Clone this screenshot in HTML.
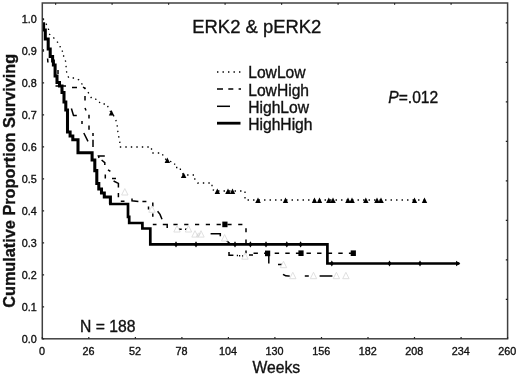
<!DOCTYPE html>
<html><head><meta charset="utf-8"><title>ERK2 &amp; pERK2</title>
<style>
html,body{margin:0;padding:0;background:#fff;}
body{width:520px;height:375px;overflow:hidden;font-family:"Liberation Sans",sans-serif;}
svg{display:block;will-change:transform;}
text{font-family:"Liberation Sans",sans-serif;fill:#111;stroke:#111;stroke-width:0.35px;}
</style></head><body>
<svg width="520" height="375" viewBox="0 0 520 375">
<rect x="0" y="0" width="520" height="375" fill="#fff"/>

<g fill="none" stroke="#000">
<path d="M43.0 19.0 L46.8 25.0 L48.6 29.6 L49.0 33.8 L55.0 39.0 L57.4 42.0 L60.0 45.0 L60.5 50.0 L63.6 52.0 L63.6 57.0 L65.5 61.0 L66.0 65.6 L66.5 71.0 L67.0 75.0 L69.0 78.0 L75.0 78.0 L79.0 80.0 L82.0 84.0 L84.0 87.5 L88.0 92.0 L90.0 95.6 L92.0 99.0 L97.7 99.4 L100.6 104.0 L107.0 104.0 L109.0 110.0 L111.5 112.5 L115.0 117.7 L117.0 123.5 L118.0 133.0 L119.8 141.7 L119.8 147.0 L151.5 147.0 L151.5 153.0 L162.0 153.0 L164.0 158.0 L167.3 160.4 L174.6 162.7 L174.6 167.5 L180.4 167.5 L180.4 171.0 L183.7 175.0 L194.8 175.0 L194.8 180.0 L197.7 183.0 L212.0 183.0 L212.0 189.6 L217.3 191.0 L245.0 191.0 L245.0 200.0 L424.5 200.0" stroke-width="1.3" stroke-dasharray="1.4 4.1"/>
<path d="M173.4 224.4 H246" stroke-width="1.5" stroke-dasharray="4.2 6.6"/>
<path d="M253.5 253.3 H353" stroke-width="1.5" stroke-dasharray="4.4 6.2"/>
<path d=" M43 49 V51.5 M47.6 58.5 L47.9 62.5 M58 70 V74 M55.5 86 H66 M72 87.6 H77 M83 87.2 L85.5 88.5 M85 96 V100.5 M85 108 L86 110.5 M89 114.7 V118.5 M89 125.4 V129.8 M93 133 V136 M93 139.8 V147 M71.4 108.5 L73.5 115.4 H76.8 M82 121 V124 M83.8 133 L88 141.4 M99 158 L98.4 156 H104.8 M101.6 160 L104.8 162.6 V165 M108 169.8 L110.4 171.4 M105.3 174.6 V178.6 M112 178.6 H116 M113.6 181 L118.4 183.4 V187.4 M118.4 193 V197.3 M120.8 201.2 H124.5 M132 198.4 V200.8 L138.4 201.6 M142.4 201.6 H146.4 M152.8 202.4 V206.4 M148.5 206.4 V209.6 M152.8 213.6 V216.8 M157.6 211.2 L160 214.4 L162 219.2 M152.8 224.4 H156.5 M162.8 224.4 H167.2 V228 M178.8 229.2 H181.7 M185 229.2 H187 M210.6 233.8 H220.3 V236.3 M226.6 240.6 L230.3 244 M229 252 V255.3 H233.4 M236.8 255.5 h1.2 M239 255.8 h1.2 M242 256 h1 M249 255 H253 M246 228.3 V232.3 M246 239.5 V243.7 M246 250.5 V253.2 M268.8 256 V263.4 M278 264.6 H282 M283 274.3 Q286 276.4 289.7 276 M304.8 276 H308.8 M319.6 276 H332.4 " stroke-width="1.5"/>
<path d="M43.6 22.3 L43.6 30.0 L45.3 30.0 L45.3 39.0 L48.2 39.0 L48.2 49.0 L50.2 49.0 L50.2 56.5 L52.6 56.5 L52.6 61.0 H53.4 V65.0 H54.2 H55.1 V76.0 H56.0 H57.0 V82.5 H58.0 H59.5 V86.0 H61.0 H62.0 V92.5 H63.0 H64.0 V102.0 H65.0 H65.8 V110.0 H66.6 H67.5 V132.0 H68.4 H70.1 V136.0 H71.8 H72.8 V139.8 H73.8 L78.0 139.8 L78.0 152.8 L90.6 152.8 H92.1 V160.0 H93.6 H94.8 V170.6 H96.0 H96.8 V183.4 H97.6 H98.8 V189.0 H100.0 H101.5 V193.0 H103.0 H104.3 V197.0 H105.6 L110.4 197.0 L110.4 204.0" stroke-width="3.05" stroke-linejoin="miter"/>
<path d="M110.4 204.0 L128.0 204.0 L128.0 216.8 H129.2 V223.0 H130.4 L142.4 223.0 L142.4 228.5 L149.6 228.5 H150.3 V244.4 H151.0 L327.4 244.4 L327.4 263.5 L458.0 263.5" stroke-width="2.7" stroke-linejoin="miter" stroke-linecap="square"/>
</g>
<path d="M121.6 195.0 L128.0 195.0 L124.8 188.6 Z" fill="#fff" stroke="#dcdcdc" stroke-width="0.9"/>
<path d="M148.8 212.3 L155.2 212.3 L152.0 205.9 Z" fill="#fff" stroke="#dcdcdc" stroke-width="0.9"/>
<path d="M173.8 232.0 L180.2 232.0 L177.0 225.6 Z" fill="#fff" stroke="#dcdcdc" stroke-width="0.9"/>
<path d="M185.3 232.0 L191.7 232.0 L188.5 225.6 Z" fill="#fff" stroke="#dcdcdc" stroke-width="0.9"/>
<path d="M191.8 237.1 L198.2 237.1 L195.0 230.7 Z" fill="#fff" stroke="#dcdcdc" stroke-width="0.9"/>
<path d="M197.8 237.1 L204.2 237.1 L201.0 230.7 Z" fill="#fff" stroke="#dcdcdc" stroke-width="0.9"/>
<path d="M221.4 241.0 L227.8 241.0 L224.6 234.6 Z" fill="#fff" stroke="#dcdcdc" stroke-width="0.9"/>
<path d="M241.8 259.2 L248.2 259.2 L245.0 252.8 Z" fill="#fff" stroke="#dcdcdc" stroke-width="0.9"/>
<path d="M280.3 267.7 L286.7 267.7 L283.5 261.3 Z" fill="#fff" stroke="#dcdcdc" stroke-width="0.9"/>
<path d="M289.6 278.7 L296.0 278.7 L292.8 272.3 Z" fill="#fff" stroke="#dcdcdc" stroke-width="0.9"/>
<path d="M310.3 278.7 L316.7 278.7 L313.5 272.3 Z" fill="#fff" stroke="#dcdcdc" stroke-width="0.9"/>
<path d="M333.2 278.7 L339.6 278.7 L336.4 272.3 Z" fill="#fff" stroke="#dcdcdc" stroke-width="0.9"/>
<path d="M342.7 278.7 L349.1 278.7 L345.9 272.3 Z" fill="#fff" stroke="#dcdcdc" stroke-width="0.9"/>
<path d="M196.5 236.8 l2 -4 M198.5 236.8 l2 -4" stroke="#cfcfcf" stroke-width="0.8"/>
<path d="M108.8 115.5 L114.2 115.5 L111.5 109.9 Z" fill="#000"/>
<path d="M164.6 163.0 L170.1 163.0 L167.3 157.4 Z" fill="#000"/>
<path d="M180.9 178.0 L186.4 178.0 L183.7 172.4 Z" fill="#000"/>
<path d="M214.6 194.0 L220.1 194.0 L217.3 188.4 Z" fill="#000"/>
<path d="M225.2 194.0 L230.8 194.0 L228.0 188.4 Z" fill="#000"/>
<path d="M229.8 194.0 L235.2 194.0 L232.5 188.4 Z" fill="#000"/>
<path d="M255.2 203.0 L260.8 203.0 L258.0 197.4 Z" fill="#000"/>
<path d="M282.8 203.0 L288.2 203.0 L285.5 197.4 Z" fill="#000"/>
<path d="M311.8 203.0 L317.2 203.0 L314.5 197.4 Z" fill="#000"/>
<path d="M316.8 203.0 L322.2 203.0 L319.5 197.4 Z" fill="#000"/>
<path d="M326.1 203.0 L331.6 203.0 L328.8 197.4 Z" fill="#000"/>
<path d="M330.2 203.0 L335.8 203.0 L333.0 197.4 Z" fill="#000"/>
<path d="M345.2 203.0 L350.8 203.0 L348.0 197.4 Z" fill="#000"/>
<path d="M349.2 203.0 L354.8 203.0 L352.0 197.4 Z" fill="#000"/>
<path d="M363.1 203.0 L368.6 203.0 L365.8 197.4 Z" fill="#000"/>
<path d="M374.2 203.0 L379.8 203.0 L377.0 197.4 Z" fill="#000"/>
<path d="M378.2 203.0 L383.8 203.0 L381.0 197.4 Z" fill="#000"/>
<path d="M411.8 203.0 L417.2 203.0 L414.5 197.4 Z" fill="#000"/>
<path d="M421.8 203.0 L427.2 203.0 L424.5 197.4 Z" fill="#000"/>
<rect x="222.3" y="221.6" width="5.2" height="5.6" fill="#000"/>
<rect x="265.0" y="250.6" width="5.2" height="5.6" fill="#000"/>
<rect x="298.4" y="250.4" width="5.2" height="5.6" fill="#000"/>
<rect x="350.7" y="250.4" width="5.2" height="5.6" fill="#000"/>
<path d="M176.0 241.3 l1.9 3.1 l-1.9 3.1 l-1.9 -3.1 Z" fill="#000"/>
<path d="M196.0 241.3 l1.9 3.1 l-1.9 3.1 l-1.9 -3.1 Z" fill="#000"/>
<path d="M235.0 241.3 l1.9 3.1 l-1.9 3.1 l-1.9 -3.1 Z" fill="#000"/>
<path d="M250.4 241.3 l1.9 3.1 l-1.9 3.1 l-1.9 -3.1 Z" fill="#000"/>
<path d="M266.0 241.3 l1.9 3.1 l-1.9 3.1 l-1.9 -3.1 Z" fill="#000"/>
<path d="M286.8 241.3 l1.9 3.1 l-1.9 3.1 l-1.9 -3.1 Z" fill="#000"/>
<path d="M300.6 241.3 l1.9 3.1 l-1.9 3.1 l-1.9 -3.1 Z" fill="#000"/>
<path d="M331.8 260.4 l1.9 3.1 l-1.9 3.1 l-1.9 -3.1 Z" fill="#000"/>
<path d="M389.5 260.4 l1.9 3.1 l-1.9 3.1 l-1.9 -3.1 Z" fill="#000"/>
<path d="M420.0 260.4 l1.9 3.1 l-1.9 3.1 l-1.9 -3.1 Z" fill="#000"/>
<path d="M456 260.8 L460.3 263.5 L456 266.2 Z" fill="#000"/>
<rect x="42.3" y="3.0" width="465.3" height="335.8" fill="none" stroke="#404040" stroke-width="1.5"/>
<path d="M42.3 338.8 v-1.8 M42.3 338.8 h1.8 M88.8 338.8 v-1.8 M42.3 306.8 h1.8 M135.4 338.8 v-1.8 M42.3 274.8 h1.8 M181.9 338.8 v-1.8 M42.3 242.8 h1.8 M228.4 338.8 v-1.8 M42.3 210.8 h1.8 M274.9 338.8 v-1.8 M42.3 178.8 h1.8 M321.5 338.8 v-1.8 M42.3 146.8 h1.8 M368.0 338.8 v-1.8 M42.3 114.8 h1.8 M414.5 338.8 v-1.8 M42.3 82.8 h1.8 M461.1 338.8 v-1.8 M42.3 50.8 h1.8 M507.6 338.8 v-1.8 M42.3 18.8 h1.8 M507.6 299.3 h-1.8 M451.1 3.0 v1.8 M507.6 259.8 h-1.8 M394.6 3.0 v1.8 M507.6 220.3 h-1.8 M338.1 3.0 v1.8 M507.6 180.8 h-1.8 M281.6 3.0 v1.8 M507.6 141.3 h-1.8 M225.1 3.0 v1.8 M507.6 101.8 h-1.8 M168.6 3.0 v1.8 M507.6 62.3 h-1.8 M112.1 3.0 v1.8 M507.6 22.8 h-1.8 M55.6 3.0 v1.8" stroke="#222" stroke-width="1.2" fill="none"/>
<text x="42.0" y="355.3" font-size="10.8" text-anchor="middle">0</text>
<text x="36.8" y="342.7" font-size="10.8" text-anchor="end">0.0</text>
<text x="88.5" y="355.3" font-size="10.8" text-anchor="middle">26</text>
<text x="36.8" y="310.7" font-size="10.8" text-anchor="end">0.1</text>
<text x="135.1" y="355.3" font-size="10.8" text-anchor="middle">52</text>
<text x="36.8" y="278.7" font-size="10.8" text-anchor="end">0.2</text>
<text x="181.6" y="355.3" font-size="10.8" text-anchor="middle">78</text>
<text x="36.8" y="246.7" font-size="10.8" text-anchor="end">0.3</text>
<text x="228.1" y="355.3" font-size="10.8" text-anchor="middle">104</text>
<text x="36.8" y="214.7" font-size="10.8" text-anchor="end">0.4</text>
<text x="274.6" y="355.3" font-size="10.8" text-anchor="middle">130</text>
<text x="36.8" y="182.7" font-size="10.8" text-anchor="end">0.5</text>
<text x="321.2" y="355.3" font-size="10.8" text-anchor="middle">156</text>
<text x="36.8" y="150.7" font-size="10.8" text-anchor="end">0.6</text>
<text x="367.7" y="355.3" font-size="10.8" text-anchor="middle">182</text>
<text x="36.8" y="118.7" font-size="10.8" text-anchor="end">0.7</text>
<text x="414.2" y="355.3" font-size="10.8" text-anchor="middle">208</text>
<text x="36.8" y="86.7" font-size="10.8" text-anchor="end">0.8</text>
<text x="460.8" y="355.3" font-size="10.8" text-anchor="middle">234</text>
<text x="36.8" y="54.7" font-size="10.8" text-anchor="end">0.9</text>
<text x="507.3" y="355.3" font-size="10.8" text-anchor="middle">260</text>
<text x="36.8" y="22.7" font-size="10.8" text-anchor="end">1.0</text>
<text x="256.8" y="33.4" font-size="18.45" text-anchor="middle">ERK2 &amp; pERK2</text>
<text x="276.3" y="373" font-size="15.7" text-anchor="middle">Weeks</text>
<text x="80" y="332" font-size="15.7">N = 188</text>
<text x="388.3" y="102.7" font-size="15.6"><tspan font-style="italic">P</tspan>=.012</text>
<text transform="translate(14.8 307.8) rotate(-90)" font-size="16.27" font-weight="bold">Cumulative Proportion Surviving</text>
<text x="248.2" y="78.0" font-size="15.65">LowLow</text>
<text x="248.2" y="95.5" font-size="15.65">LowHigh</text>
<text x="248.2" y="112.9" font-size="15.65">HighLow</text>
<text x="248.2" y="130.3" font-size="15.65">HighHigh</text>
<g fill="none" stroke="#000">
<path d="M217 72 H241" stroke-width="1.3" stroke-dasharray="1.4 4.1"/>
<path d="M217 89 H241" stroke-width="1.5" stroke-dasharray="6 5.3 5 5.3 3 9"/>
<path d="M217 106.3 H230" stroke-width="1.5"/>
<path d="M217 123.2 H240.5" stroke-width="2.8"/>
</g>
</svg></body></html>
